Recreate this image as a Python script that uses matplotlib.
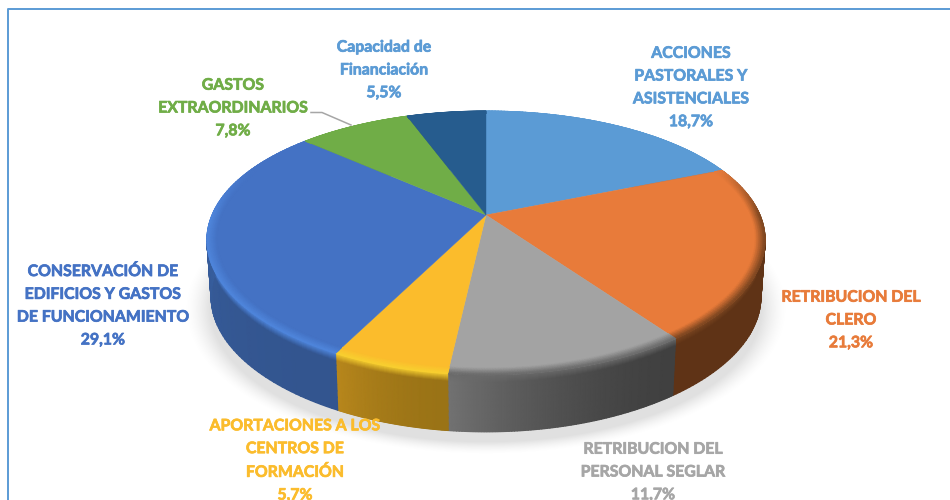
import matplotlib
matplotlib.use("Agg")
import matplotlib.pyplot as plt
import matplotlib.patheffects as pe
import numpy as np
from matplotlib.colors import to_rgb

plt.rcParams["font.family"] = ["Lato", "DejaVu Sans"]

# clockwise from 12 o'clock
names = ["ACCIONES\nPASTORALES Y\nASISTENCIALES", "RETRIBUCION DEL\nCLERO",
         "RETRIBUCION DEL\nPERSONAL SEGLAR", "APORTACIONES A LOS\nCENTROS DE\nFORMACIÓN",
         "CONSERVACIÓN DE\nEDIFICIOS Y GASTOS\nDE FUNCIONAMIENTO",
         "GASTOS\nEXTRAORDINARIOS", "Capacidad de\nFinanciación"]
values = [18.7, 21.3, 11.7, 5.7, 29.1, 7.8, 5.5]

colors = ["#5b9bd5", "#e87b3a", "#a3a3a3", "#fbbc2c", "#4472c4", "#70ad47", "#265c8e"]
text_colors = ["#5b9bd5", "#e87b3a", "#a6a6a6", "#fbbc2c", "#4472c4", "#70ad47", "#5b9bd5"]
rim_colors = ["#5b9bd5", "#7a4520", "#6a6a6a", "#f8d030", "#4f86dc", "#70ad47", "#265c8e"]
side_start = ["#3a6a96", "#5f3316", "#404040", "#9a7316", "#33558f", "#4c7a30", "#1a4060"]
side_end = ["#3a6a96", "#5f3316", "#727272", "#b8871c", "#3d6cb5", "#4c7a30", "#1a4060"]
label_pos = [(691, 88), (851, 320.5), (653, 472.5), (295, 461), (103, 306), (233, 108.5), (384, 70.5)]

# perspective of the tilted disc, pixels
cx, cy = 486, 215
a, b, k = 274, 126, 0.212
depth = 57
shrink = 0.985


def project(theta, r=1.0, d=0.0):
    u, v = r * np.sin(theta), r * np.cos(theta)
    w = 1 + k * v
    s = 1 + (shrink - 1) * d / depth
    return cx + a * u / w ** 0.9 * s, cy - b * v / w + d


fig = plt.figure(figsize=(9.5, 5), dpi=100)
ax = fig.add_axes([0, 0, 1, 1])

# frame, only left and top reach inside the picture
ax.plot([7.5, 7.5, 950], [500, 9, 9], color="#5b9bd5", lw=1.4)

# soft shadow under the disc
xx, yy = np.meshgrid(np.arange(950) + 0.5, np.arange(500) + 0.5)
f = np.sqrt(((xx - cx) / 284) ** 2 + ((yy - 309) / 137) ** 2)
shadow = np.ones((500, 950, 4)) * 0.6
shadow[..., 3] = np.clip((1.06 - f) / 0.09, 0, 1) ** 1.5 * 0.3
ax.imshow(shadow, extent=(0, 950, 500, 0), aspect="auto", zorder=1, interpolation="bilinear")
ax.set_xlim(0, 950)
ax.set_ylim(500, 0)
ax.axis("off")

edges = np.cumsum([0] + values) / sum(values) * 2 * np.pi
ds = np.r_[np.linspace(0, 8, 9), np.linspace(12, depth, 8)]
rs = np.linspace(0.965, 1.0, 6)

for i, val in enumerate(values):
    th = np.linspace(edges[i], edges[i + 1], 90)
    rim = np.array(to_rgb(rim_colors[i]))
    s0, s1 = np.array(to_rgb(side_start[i])), np.array(to_rgb(side_end[i]))

    # outer wall with a short fade from the bevel
    T, D = np.meshgrid(th, ds)
    X, Y = project(T, 1, D)
    t = (((T - th[0]) / (th[-1] - th[0])) ** 1.8)[..., None]
    m = np.clip(D / 8, 0, 1)[..., None]
    C = rim * (1 - m) + (s1 * t + s0 * (1 - t)) * m
    ax.pcolormesh(X, Y, C, shading="gouraud", zorder=2)

for i, val in enumerate(values):
    th = np.linspace(edges[i], edges[i + 1], 90)
    base = np.array(to_rgb(colors[i]))
    rim = np.array(to_rgb(rim_colors[i]))
    x, y = project(th)
    ax.fill(np.r_[cx, x], np.r_[cy, y], color=colors[i], lw=0.3, zorder=3)

    # bevel on the outer edge of the top, fades out towards the back of the disc
    T, R = np.meshgrid(th, rs)
    X, Y = project(T, R)
    w = np.clip((0.4 - np.cos(T)) / 0.4, 0, 1) * (R - rs[0]) / (1 - rs[0])
    C = base * (1 - w[..., None]) + rim * w[..., None]
    ax.pcolormesh(X, Y, C, shading="gouraud", zorder=4)

# leader line of GASTOS EXTRAORDINARIOS
ax.plot([311, 322, 351], [112.5, 112.5, 125], color="#a6a6a6", lw=1.1, zorder=5)

for name, val, col, (lx, ly) in zip(names, values, text_colors, label_pos):
    txt = name + "\n" + f"{val:.1f}%".replace(".", ",")
    t = ax.text(lx, ly, txt, color=col, fontsize=11.4, fontweight="bold", ha="center", va="center",
                linespacing=1.8, zorder=6)
    t.set_path_effects([pe.withStroke(linewidth=0.5, foreground=col)])

fig.savefig("out.png", dpi=100)
plt.close()
